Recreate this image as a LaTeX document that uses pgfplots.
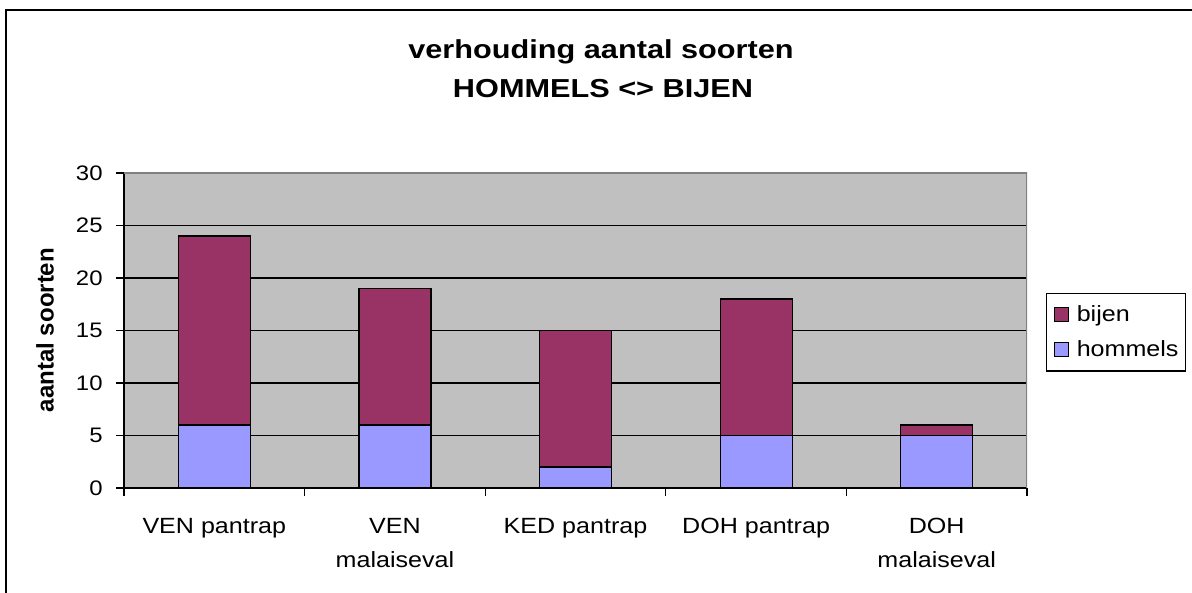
\documentclass[border=0pt]{standalone}
\usepackage{fontspec}
\setmainfont{Liberation Sans}[FakeStretch=1.14]
\newfontfamily\titlefont{Liberation Sans}[FakeStretch=1.18]
\newfontfamily\plainfont{Liberation Sans}
\usepackage{pgfplots}
\pgfplotsset{compat=1.18}
\definecolor{hommels}{HTML}{9999FF}
\definecolor{bijen}{HTML}{993366}
\definecolor{plotbg}{HTML}{C0C0C0}
\definecolor{bordergray}{HTML}{808080}
\pgfplotsset{sqlegend/.style={legend image code/.code={\draw[##1,line width=0.6pt] (0pt,-3.5pt) rectangle (7pt,3.5pt);}}}
\begin{document}
\begin{tikzpicture}[x=0.5pt,y=0.5pt]
\useasboundingbox[fill=white] (0,0) rectangle (1192,593);
\draw[line width=1pt] (6,0) -- (6,583) -- (1192,583);
\node[font=\titlefont\bfseries\fontsize{13}{15}\selectfont, anchor=base] at (601,534) {verhouding aantal soorten};
\node[font=\titlefont\bfseries\fontsize{13}{15}\selectfont, anchor=base] at (603,495) {HOMMELS <> BIJEN};
\node[font=\plainfont\bfseries\fontsize{12}{14}\selectfont, rotate=90] at (45,263) {aantal soorten};
\begin{axis}[
  at={(62pt,52.5pt)}, anchor=south west,
  scale only axis, width=451.5pt, height=157.5pt,
  ybar stacked, bar width=36pt,
  xmin=-0.5, xmax=4.5, ymin=0, ymax=30,
  ytick={0,5,...,30},
  xtick={-0.5,0.5,1.5,2.5,3.5,4.5}, xticklabels={},
  extra x ticks={0,1,2,3,4},
  extra x tick labels={VEN pantrap,{VEN\\malaiseval},KED pantrap,DOH pantrap,{DOH\\malaiseval}},
  extra x tick style={tick style={draw=none}},
  axis lines*=left,
  axis line style={black, line width=0.6pt},
  tick align=outside, major tick length=4pt,
  tick style={black, line width=0.6pt},
  ymajorgrids, major grid style={black, line width=0.6pt},
  axis background/.style={fill=plotbg},
  /pgf/number format/assume math mode=true,
  yticklabel style={font=\fontsize{10.5}{12}\selectfont, inner sep=0pt, xshift=-6.5pt},
  xticklabel style={font=\fontsize{11}{17}\selectfont, align=center, anchor=north, inner sep=0pt, yshift=-11pt},
  reverse legend,
  legend cell align=left,
  legend style={at={(1.021,0.495)}, anchor=west, draw=black, line width=0.6pt, fill=white,
    font=\fontsize{11}{13}\selectfont, nodes={inner sep=0pt}, row sep=8pt,
    inner xsep=3.5pt, inner ysep=6pt,
    /tikz/every odd column/.append style={column sep=4pt}},
]
\addplot[fill=hommels, draw=black, line width=0.6pt, sqlegend] coordinates {(0,6) (1,6) (2,2) (3,5) (4,5)};
\addlegendentry{hommels}
\addplot[fill=bijen, draw=black, line width=0.6pt, sqlegend] coordinates {(0,18) (1,13) (2,13) (3,13) (4,1)};
\addlegendentry{bijen}
\draw[bordergray, line width=0.6pt] (rel axis cs:0,1) -- (rel axis cs:1,1) -- (rel axis cs:1,0);
\draw[black, line width=0.6pt] (rel axis cs:0,0) -- (rel axis cs:0,1);
\end{axis}
\end{tikzpicture}
\end{document}
